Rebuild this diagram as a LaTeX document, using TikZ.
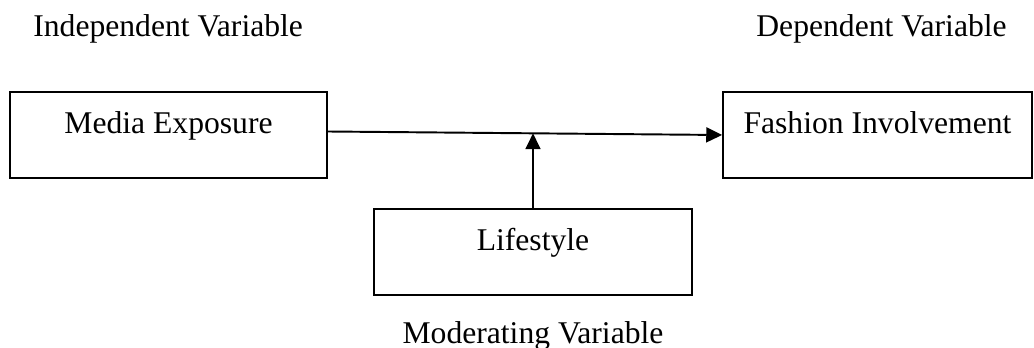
\documentclass[tikz,border=0pt]{standalone}
\usepackage{fontspec}
\setmainfont{Liberation Serif}
\usepackage{tikz}
\usetikzlibrary{arrows.meta,calc,positioning}
\tikzset{%
	varbox/.style   = {draw, rectangle, line width=1.1pt, inner sep=0pt, text height=0.82cm, text depth=0.9cm, text centered, font=\fontsize{18}{21}\selectfont},
	varlabel/.style = {inner sep=0pt, font=\fontsize{18}{21}\selectfont},
	arrow/.style    = {line width=1.1pt,-{Triangle[length=9pt,width=8.5pt]}},
}
\begin{document}
\begin{tikzpicture}[x=0.02cm,y=-0.02cm]
		\useasboundingbox (0,0) rectangle (1034,348);
		\node[varlabel,anchor=base west] (indep) at (33,37) {Independent Variable};
		\node[varlabel,anchor=base east] (dep) at (1007,37) {Dependent Variable};
		\node[varbox,minimum width=6.34cm,anchor=base] (media) at (168.5,133) {Media Exposure};
		\node[varbox,minimum width=6.18cm,anchor=base] (fashion) at (877.5,133) {Fashion Involvement};
		\node[varbox,minimum width=6.36cm,anchor=base] (life) at (533,250) {Lifestyle};
		\node[varlabel,below=0.5cm of life] (moder) {Moderating Variable};
		\draw[arrow] ([yshift=0.07cm]media.east) -- (fashion.west);  % main effect
		\path ([yshift=0.07cm]media.east) -- (fashion.west) coordinate[pos=0.52] (mid);
		\draw[arrow] (life.north) -- (life.north |- mid);  % moderation
		\end{tikzpicture}
\end{document}
